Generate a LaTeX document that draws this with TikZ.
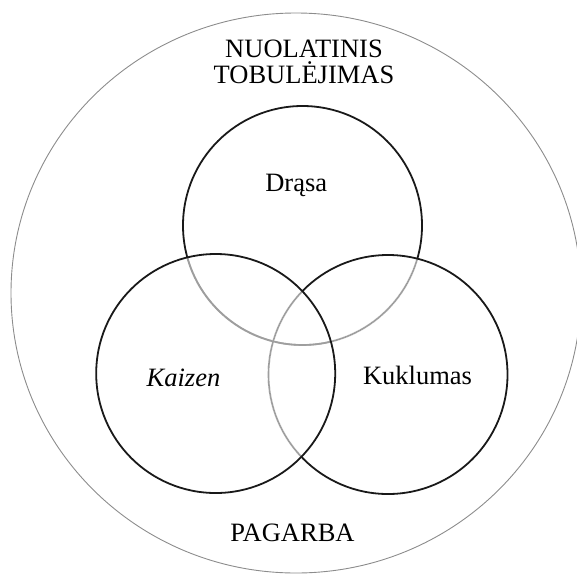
\documentclass[tikz,border=0pt]{standalone}
\usepackage{fontspec}
\setmainfont{Liberation Serif}
\usetikzlibrary{shapes.geometric}
\begin{document}
\begin{tikzpicture}[x=1pt, y=-1pt,
  ring/.style={draw=black!90, line width=1.8pt},
  faded/.style={draw=black!38, line width=1.6pt},
  eraser/.style={draw=white, line width=2.8pt},
  outer/.style={draw=black!45, line width=0.9pt},
  label/.style={font=\fontsize{26.5}{26}\selectfont, inner sep=0pt, anchor=base, align=center}]
  \useasboundingbox (0,0) rectangle (577,573);

  % circle centres
  \coordinate (ctop)   at (302.5,225.5);
  \coordinate (cleft)  at (215.7,373.5);
  \coordinate (cright) at (388.0,374.5);
  \def\rr{119.5pt}

  % surrounding ring
  \node[outer, ellipse, minimum width=570pt, minimum height=560pt, inner sep=0pt] (whole) at (296,293) {};

  % top circle, faded where the lower circles cover it
  \draw[ring] (ctop) circle[radius=\rr];
  \begin{scope}
    \clip (cleft) circle[radius=\rr];
    \draw[eraser] (ctop) circle[radius=\rr];
    \draw[faded] (ctop) circle[radius=\rr];
  \end{scope}
  \begin{scope}
    \clip (cright) circle[radius=\rr];
    \draw[eraser] (ctop) circle[radius=\rr];
    \draw[faded] (ctop) circle[radius=\rr];
  \end{scope}

  % right circle, faded inside the left one
  \draw[ring] (cright) circle[radius=\rr];
  \begin{scope}
    \clip (cleft) circle[radius=\rr];
    \draw[eraser] (cright) circle[radius=\rr];
    \draw[faded] (cright) circle[radius=\rr];
    \draw[faded] (ctop) circle[radius=\rr];
  \end{scope}

  % left circle on top
  \draw[ring] (cleft) circle[radius=\rr];

  % labels (base anchor of the two-line title sits on its last line)
  \node[label] (title) at (304,83.3) {NUOLATINIS\\TOBULĖJIMAS};
  \node[label] (drasa) at (296.2,191) {Drąsa};
  \node[label] (kaizen) at (183.5,386.7) {\textit{Kaizen}};
  \node[label] (kukl) at (417.5,384.3) {Kuklumas};
  \node[label] (pagarba) at (292.5,541.5) {PAGARBA};
\end{tikzpicture}
\end{document}
